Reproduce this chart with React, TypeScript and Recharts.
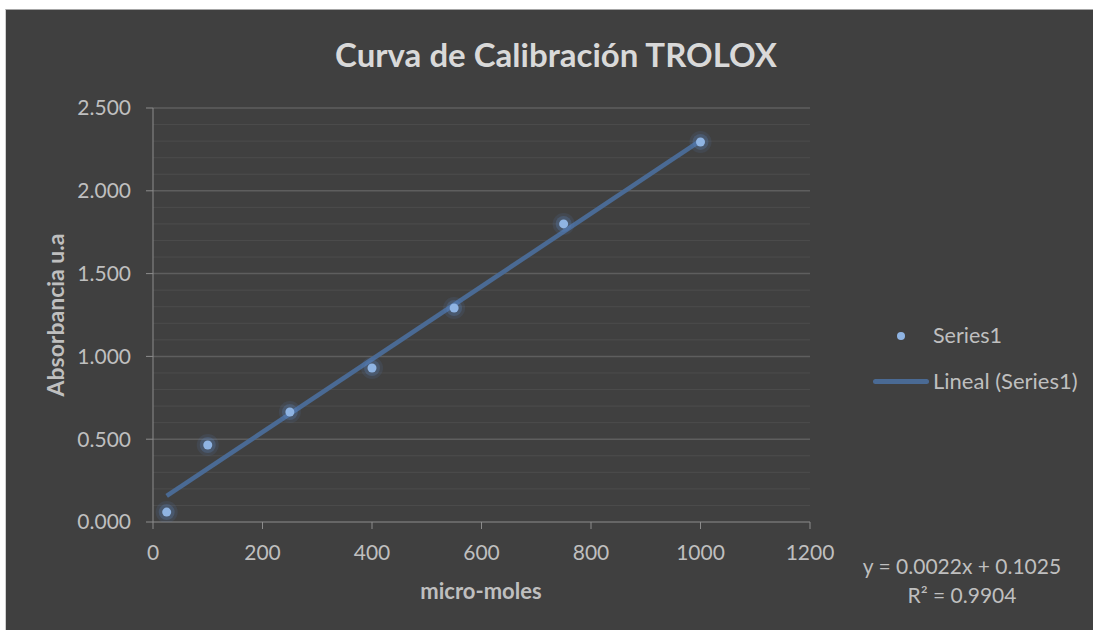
import { ComposedChart, Scatter, Line, XAxis, YAxis, ReferenceLine } from "recharts";

// TROLOX calibration readings
const microMoles = [25, 100, 250, 400, 550, 750, 1000];
const absorbance = [0.06, 0.465, 0.664, 0.93, 1.292, 1.8, 2.295];

const xTicks = [0, 200, 400, 600, 800, 1000, 1200];
const yTicks = [0, 0.5, 1, 1.5, 2, 2.5];
const yMinorTicks = [
  0.1, 0.2, 0.3, 0.4, 0.6, 0.7, 0.8, 0.9, 1.1, 1.2, 1.3, 1.4, 1.6, 1.7, 1.8, 1.9, 2.1, 2.2, 2.3, 2.4,
];

// Excel linear trendline shown on the chart
const trendSlope = 0.0022;
const trendIntercept = 0.1025;

const points = microMoles.map((x, i) => ({ x, y: absorbance[i] }));
const trendX = [microMoles[0], microMoles[microMoles.length - 1]];
const trend = trendX.map((x) => ({ x, y: trendSlope * x + trendIntercept }));

const font = "Lato, 'Open Sans', sans-serif";
const tickStyle = { fill: "#bfbfbf", fontSize: 21, fontFamily: font };

function GlowDot(props: any) {
  const { cx, cy } = props;
  if (cx == null || cy == null) return null;
  return (
    <g>
      <circle cx={cx} cy={cy} r={11} fill="#5b86c4" opacity={0.12} />
      <circle cx={cx} cy={cy} r={8} fill="#5b86c4" opacity={0.25} />
      <circle cx={cx} cy={cy} r={4.5} fill="#8fb4e3" />
    </g>
  );
}

const abs = (left: number, top: number, extra: any = {}) => ({
  position: "absolute" as const,
  left,
  top,
  lineHeight: 1,
  whiteSpace: "nowrap" as const,
  fontFamily: font,
  ...extra,
});

export default function App() {
  return (
    <div style={{ position: "absolute", left: 0, top: 0, width: 1093, height: 630, background: "#ffffff" }}>
      <div
        style={{
          position: "absolute",
          left: 5,
          top: 9,
          width: 1088,
          height: 621,
          background: "#404040",
          borderTop: "1px solid #a6a6a6",
          borderLeft: "1px solid #d0d0d0",
          boxSizing: "border-box",
        }}
      >
        <ComposedChart width={1087} height={620} margin={{ top: 98, right: 283, bottom: 78, left: 0 }}>
          {yMinorTicks.map((v) => (
            <ReferenceLine key={"m" + v} y={v} stroke="#4c4c4c" strokeWidth={1} />
          ))}
          {yTicks
            .filter((v) => v > 0)
            .map((v) => (
              <ReferenceLine key={"M" + v} y={v} stroke="#5e5e5e" strokeWidth={1.5} />
            ))}
          <XAxis
            type="number"
            dataKey="x"
            domain={[0, 1200]}
            ticks={xTicks}
            stroke="#8c8c8c"
            tick={tickStyle}
            tickSize={7}
            tickMargin={16}
            height={30}
            allowDataOverflow
          />
          <YAxis
            type="number"
            dataKey="y"
            domain={[0, 2.5]}
            ticks={yTicks}
            stroke="#8c8c8c"
            tick={tickStyle}
            tickSize={7}
            tickMargin={15}
            width={147}
            tickFormatter={(v: number) => v.toFixed(3)}
            allowDataOverflow
          />
          <Line
            data={trend}
            dataKey="y"
            type="linear"
            stroke="#4a6a94"
            strokeWidth={4.5}
            dot={false}
            activeDot={false}
            isAnimationActive={false}
          />
          <Scatter data={points} dataKey="y" shape={<GlowDot />} isAnimationActive={false} />
        </ComposedChart>
      </div>

      <div style={abs(556, 54, { transform: "translate(-50%,-50%)", fontSize: 33, fontWeight: 700, color: "#d9d9d9" })}>
        Curva de Calibración TROLOX
      </div>

      <div
        style={abs(55, 315, {
          transform: "translate(-50%,-50%) rotate(-90deg)",
          fontSize: 23,
          fontWeight: 700,
          color: "#bfbfbf",
        })}
      >
        Absorbancia u.a
      </div>

      <div style={abs(481, 591, { transform: "translate(-50%,-50%)", fontSize: 22, fontWeight: 700, color: "#bfbfbf" })}>
        micro-moles
      </div>

      {/* legend */}
      <div style={abs(897, 332, { width: 8, height: 8, borderRadius: 4, background: "#8fb4e3" })} />
      <div style={abs(933, 336, { transform: "translateY(-50%)", fontSize: 21.5, color: "#bfbfbf" })}>Series1</div>
      <div style={abs(873, 379, { width: 56, height: 5, borderRadius: 2.5, background: "#4a6a94" })} />
      <div style={abs(933, 381, { transform: "translateY(-50%)", fontSize: 22, color: "#bfbfbf" })}>
        Lineal (Series1)
      </div>

      {/* trendline equation */}
      <div
        style={abs(962, 580, {
          transform: "translate(-50%,-50%)",
          fontSize: 21,
          color: "#bfbfbf",
          textAlign: "center",
          lineHeight: "29px",
        })}
      >
        y = 0.0022x + 0.1025
        <br />
        R² = 0.9904
      </div>
    </div>
  );
}
